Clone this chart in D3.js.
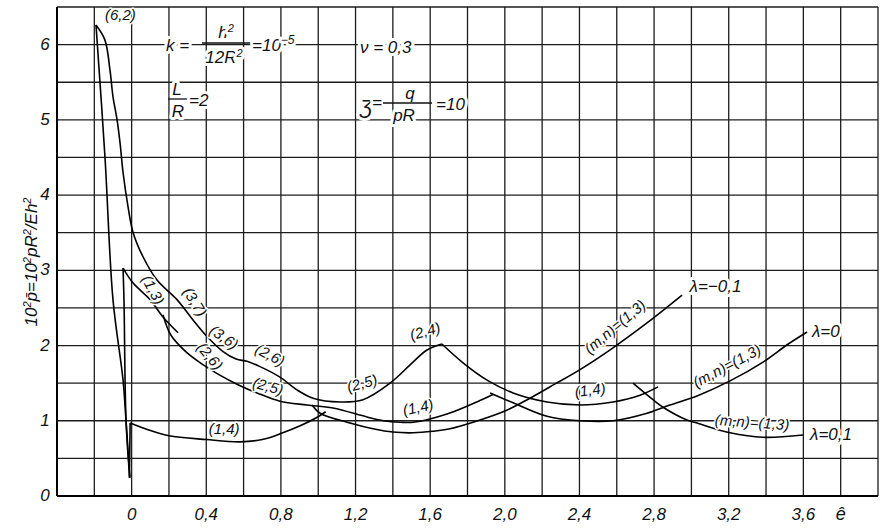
<!DOCTYPE html>
<html>
<head>
<meta charset="utf-8">
<script src="https://cdnjs.cloudflare.com/ajax/libs/d3/7.8.5/d3.min.js"></script>
<style>
  body { margin: 0; background: #fff; }
  svg text { font-family: "Liberation Sans", Arial, sans-serif; font-style: italic; fill: #111; }
  .halo { paint-order: stroke; stroke: #fff; stroke-width: 3px; stroke-linejoin: round; }
  .wide { paint-order: stroke; stroke: #fff; stroke-width: 6px; stroke-linejoin: round; }
</style>
</head>
<body>
<div id="chart"></div>
<script>
// tick values / labels
var xTicks = [0, 0.4, 0.8, 1.2, 1.6, 2.0, 2.4, 2.8, 3.2, 3.6];
var xTickLabels = ["0", "0,4", "0,8", "1,2", "1,6", "2,0", "2,4", "2,8", "3,2", "3,6"];
var yTicks = [0, 1, 2, 3, 4, 5, 6];

// curves, [e, 10^2 p] pairs
var spike62 = [[-0.191, 6.26], [-0.143, 4.51], [-0.1, 2.61], [-0.046, 1.54], [-0.03, 1.0], [-0.01, 0.25]];
var chain62 = [[-0.191, 6.26], [-0.143, 6.06], [-0.116, 5.66], [-0.1, 5.31], [-0.078, 5.0], [-0.062, 4.69],
  [-0.046, 4.30], [-0.019, 3.84], [0.008, 3.50], [0.061, 3.18], [0.136, 2.87], [0.243, 2.61], [0.329, 2.34],
  [0.404, 2.12], [0.49, 1.92], [0.56, 1.82], [0.618, 1.79], [0.688, 1.72], [0.795, 1.58], [0.886, 1.41],
  [0.972, 1.30], [1.117, 1.25], [1.24, 1.28], [1.385, 1.50], [1.508, 1.78], [1.583, 1.94], [1.663, 2.02]];
var spike13 = [[-0.046, 3.03], [-0.041, 2.61], [-0.03, 1.0], [-0.01, 0.24]];
var branch13 = [[-0.046, 3.03], [0.008, 2.83], [0.099, 2.61], [0.168, 2.38], [0.249, 2.17]];
var chain26 = [[0.168, 2.41], [0.21, 2.14], [0.29, 1.92], [0.38, 1.75], [0.47, 1.61], [0.57, 1.48], [0.672, 1.37],
  [0.795, 1.26], [0.94, 1.21], [1.079, 1.17], [1.261, 1.05], [1.35, 1.0], [1.44, 0.98], [1.51, 0.98],
  [1.69, 1.09], [1.867, 1.27], [1.937, 1.35]];
var spike14 = [[-0.008, 0.97], [-0.012, 0.24]];
var low14 = [[-0.008, 0.97], [0.1, 0.87], [0.2, 0.8], [0.4, 0.75], [0.58, 0.72], [0.7, 0.75], [0.81, 0.84],
  [0.9, 0.93], [0.99, 1.04], [1.04, 1.12]];
var high14 = [[1.663, 2.02], [1.776, 1.77], [1.905, 1.54], [2.044, 1.37], [2.226, 1.25], [2.403, 1.21],
  [2.58, 1.25], [2.725, 1.34], [2.821, 1.45]];
var lamM01 = [[0.967, 1.21], [1.01, 1.10], [1.17, 0.97], [1.30, 0.89], [1.40, 0.85], [1.51, 0.84], [1.615, 0.86],
  [1.70, 0.89], [1.867, 1.01], [2.01, 1.14], [2.135, 1.30], [2.27, 1.49], [2.403, 1.68], [2.58, 1.97],
  [2.762, 2.30], [2.95, 2.67]];
var lam0 = [[1.921, 1.37], [2.044, 1.24], [2.226, 1.06], [2.403, 1.0], [2.58, 1.0], [2.762, 1.10], [2.885, 1.21],
  [3.03, 1.33], [3.207, 1.53], [3.384, 1.78], [3.513, 2.01], [3.62, 2.18]];
var lam01 = [[2.687, 1.50], [2.794, 1.28], [2.848, 1.18], [2.976, 1.01], [3.03, 0.97], [3.207, 0.84],
  [3.384, 0.78], [3.598, 0.81]];

var curves = [spike62, chain62, spike13, branch13, chain26, spike14, low14, high14, lamM01, lam0, lam01];

// curve annotations: text, e, p, rotation
var notes = [
  ["(6,2)", -0.06, 6.40, 0], ["(1,3)", 0.115, 2.74, 62], ["(3,7)", 0.34, 2.58, 58],
  ["(3,6)", 0.495, 2.11, 35], ["(2,6)", 0.742, 1.875, 28], ["(2,6)", 0.42, 1.86, 50],
  ["(2,5)", 0.731, 1.46, 15], ["(2,5)", 1.235, 1.50, -15], ["(1,4)", 0.496, 0.90, 0],
  ["(1,4)", 1.535, 1.18, -12], ["(2,4)", 1.573, 2.19, -15], ["(1,4)", 2.457, 1.41, -8],
  ["(m,n)=(1,3)", 2.59, 2.25, -40], ["(m,n)=(1,3)", 3.19, 1.73, -28], ["(m,n)=(1,3)", 3.325, 0.98, 4]
];
var lambdaNotes = [["λ=−0,1", 2.99, 2.71], ["λ=0", 3.646, 2.11], ["λ=0,1", 3.636, 0.745]];

var width = 881, height = 528;

var svg = d3.select("#chart").append("svg")
  .attr("width", width)
  .attr("height", height);

var x = d3.scaleLinear().domain([-0.4, 4.0]).range([57, 878]);
var y = d3.scaleLinear().domain([0, 6.5]).range([496, 7]);

// grid
var gx = d3.range(-2, 21).map(function (i) { return i * 0.2; });
var gy = d3.range(0, 14).map(function (i) { return i * 0.5; });

svg.append("g").selectAll("line").data(gx).enter().append("line")
  .attr("x1", function (d) { return x(d); }).attr("x2", function (d) { return x(d); })
  .attr("y1", y(0)).attr("y2", y(6.5))
  .attr("stroke", "#1c1c1c").attr("stroke-width", 1.3);
svg.append("g").selectAll("line").data(gy).enter().append("line")
  .attr("y1", function (d) { return y(d); }).attr("y2", function (d) { return y(d); })
  .attr("x1", x(-0.4)).attr("x2", x(4.0))
  .attr("stroke", "#1c1c1c").attr("stroke-width", 1.3);

// axes frame
svg.append("line").attr("x1", x(-0.4)).attr("x2", x(-0.4)).attr("y1", y(0)).attr("y2", y(6.5))
  .attr("stroke", "#000").attr("stroke-width", 2);
svg.append("line").attr("x1", x(-0.4)).attr("x2", x(4.0)).attr("y1", y(0)).attr("y2", y(0))
  .attr("stroke", "#000").attr("stroke-width", 2);

// tick labels
svg.append("g").selectAll("text").data(xTicks).enter().append("text")
  .attr("x", function (d) { return x(d); })
  .attr("y", 520)
  .attr("text-anchor", "middle")
  .style("font-size", "17px")
  .text(function (d, i) { return xTickLabels[i]; });
svg.append("text").attr("x", x(3.8)).attr("y", 520).attr("text-anchor", "middle")
  .style("font-size", "18px").text("ê");

svg.append("g").selectAll("text").data(yTicks).enter().append("text")
  .attr("x", 45)
  .attr("y", function (d) { return y(d) + 5; })
  .attr("text-anchor", "middle")
  .style("font-size", "17px")
  .text(function (d) { return d; });

// y label
var yl = svg.append("text")
  .attr("transform", "translate(37,262) rotate(-90)")
  .attr("text-anchor", "middle")
  .style("font-size", "17px");
yl.append("tspan").text("10");
yl.append("tspan").attr("baseline-shift", "super").style("font-size", "11px").text("2");
yl.append("tspan").text("p\u0304=10");
yl.append("tspan").attr("baseline-shift", "super").style("font-size", "11px").text("2");
yl.append("tspan").text("pR");
yl.append("tspan").attr("baseline-shift", "super").style("font-size", "11px").text("2");
yl.append("tspan").text("/Eh");
yl.append("tspan").attr("baseline-shift", "super").style("font-size", "11px").text("2");

// curves
var line = d3.line()
  .x(function (d) { return x(d[0]); })
  .y(function (d) { return y(d[1]); })
  .curve(d3.curveCatmullRom.alpha(0.5));

svg.append("g").selectAll("path").data(curves).enter().append("path")
  .attr("d", line)
  .attr("fill", "none")
  .attr("stroke", "#000")
  .attr("stroke-width", 1.6);

// curve labels
svg.append("g").selectAll("text").data(notes).enter().append("text")
  .attr("class", "halo")
  .attr("transform", function (d) { return "translate(" + x(d[1]) + "," + y(d[2]) + ") rotate(" + d[3] + ")"; })
  .attr("text-anchor", "middle")
  .attr("dy", "0.35em")
  .style("font-size", "15px")
  .text(function (d) { return d[0]; });

svg.append("g").selectAll("text").data(lambdaNotes).enter().append("text")
  .attr("class", "wide")
  .attr("x", function (d) { return x(d[1]); })
  .attr("y", function (d) { return y(d[2]); })
  .style("font-size", "17px")
  .text(function (d) { return d[0]; });

// parameter block
var f = svg.append("g").style("font-size", "17px");
function txt(s, px, py, size, anchor) {
  return f.append("text").attr("class", "wide").attr("x", px).attr("y", py)
    .attr("text-anchor", anchor || "start").style("font-size", size ? size + "px" : null).text(s);
}
txt("k =", 166, 51);
var hn = txt("h", 226, 38, null, "middle"); hn.append("tspan").attr("baseline-shift", "super").style("font-size", "11px").text("2");
var hd = txt("12R", 224, 63, null, "middle"); hd.append("tspan").attr("baseline-shift", "super").style("font-size", "11px").text("2");
f.append("line").attr("x1", 202).attr("x2", 251).attr("y1", 43).attr("y2", 43).attr("stroke", "#111").attr("stroke-width", 1.3);
var ten = txt("=10", 252, 51); ten.append("tspan").attr("baseline-shift", "super").style("font-size", "12px").text("−5");

txt("L", 177, 95, null, "middle");
txt("R", 178, 117, null, "middle");
f.append("line").attr("x1", 168).attr("x2", 188).attr("y1", 99).attr("y2", 99).attr("stroke", "#111").attr("stroke-width", 1.3);
txt("=2", 189, 106);

txt("ν = 0,3", 360, 53);

txt("Ʒ", 360, 114, 20);
txt("=", 372, 108);
txt("q", 410, 99, null, "middle");
txt("pR", 404, 121, null, "middle");
f.append("line").attr("x1", 383).attr("x2", 432).attr("y1", 103).attr("y2", 103).attr("stroke", "#111").attr("stroke-width", 1.3);
txt("=10", 436, 110);
</script>
</body>
</html>
